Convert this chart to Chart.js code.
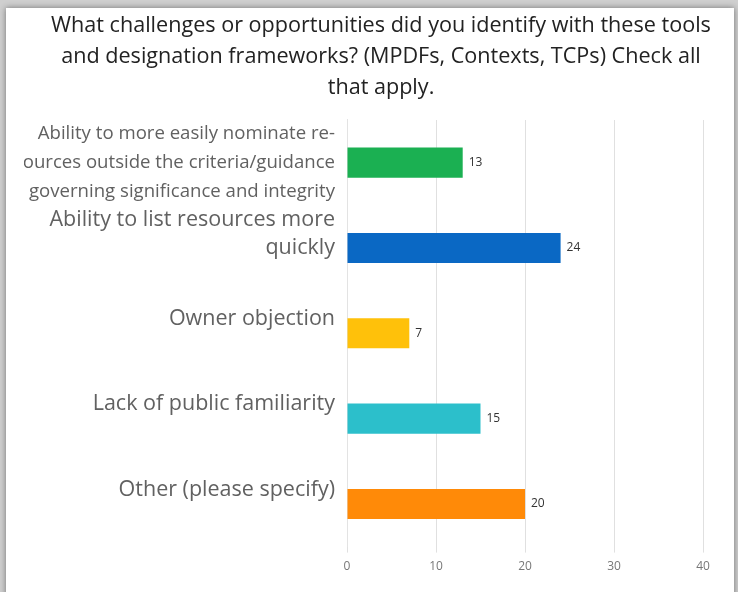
<!DOCTYPE html>
<html>
<head>
<meta charset="utf-8">
<script src="https://cdn.jsdelivr.net/npm/chart.js@4/dist/chart.umd.min.js"></script>
<style>
  html, body { margin: 0; padding: 0; background: #cfcfcf; }
  body { width: 738px; height: 592px; position: relative; overflow: hidden; }
  .card {
    position: absolute; left: 6px; top: 8px; width: 728px; height: 620px;
    background: #fff; box-shadow: 0 0 6px rgba(0,0,0,0.45);
  }
  #chart { position: absolute; left: 0; top: 0; }
</style>
</head>
<body>
<div class="card"></div>
<canvas id="chart" width="738" height="592"></canvas>
<script>
// ── Survey data ──────────────────────────────────────────────────────────
const titleLines = [
    'What challenges or opportunities did you identify with these tools',
    'and designation frameworks? (MPDFs, Contexts, TCPs) Check all',
    'that apply.'
];

const categories = [
    ['Ability to more easily nominate re-', 'sources outside the criteria/guidance', 'governing significance and integrity'],
    ['Ability to list resources more', 'quickly', ''],
    ['Owner objection', ''],
    ['Lack of public familiarity', ''],
    ['Other (please specify)', '']
];

const responses = [13, 24, 7, 15, 20];

const barColors = ['#1bb052', '#0a68c4', '#ffc10a', '#2cbfcb', '#ff8a08'];

const xTickMax  = 40;
const xTickStep = 10;

// ── Value labels at bar ends ─────────────────────────────────────────────
const valueLabels = {
    id: 'valueLabels',
    afterDatasetsDraw(chart) {
        const ctx = chart.ctx;
        const meta = chart.getDatasetMeta(0);
        ctx.save();
        ctx.font = '12px "Open Sans"';
        ctx.fillStyle = '#333';
        ctx.textAlign = 'left';
        ctx.textBaseline = 'middle';
        meta.data.forEach((bar, i) => {
            ctx.fillText(String(responses[i]), bar.x + 6, bar.y);
        });
        ctx.restore();
    }
};

new Chart(document.getElementById('chart'), {
    type: 'bar',
    data: {
        labels: categories,
        datasets: [{
            data: responses,
            backgroundColor: barColors,
            borderWidth: 0,
            categoryPercentage: 1,
            barPercentage: 0.353
        }]
    },
    options: {
        indexAxis: 'y',
        responsive: false,
        animation: false,
        layout: { padding: { left: 24, right: 0, top: 0, bottom: 11 } },
        plugins: {
            legend: { display: false },
            tooltip: { enabled: false },
            title: {
                display: true,
                text: titleLines,
                color: '#222',
                font: { family: '"Open Sans"', size: 21.6, weight: 'normal', lineHeight: 1.435 },
                padding: { top: 10, bottom: 17 }
            }
        },
        scales: {
            x: {
                min: 0,
                max: xTickMax,
                grid: { color: '#e0e0e0', lineWidth: 1, tickLength: 6, drawTicks: true },
                border: { display: false },
                afterFit: (scale) => { scale.paddingRight = 35; },
                ticks: {
                    stepSize: xTickStep,
                    color: '#777',
                    padding: 7,
                    font: { family: '"Open Sans"', size: 12 }
                }
            },
            y: {
                grid: { display: false, drawTicks: false },
                border: { display: true, color: '#e3e3e3' },
                afterFit: (scale) => {
                    // tall multi-line labels may overhang the plot edges
                    scale.width = 323;
                    scale.paddingTop = 0;
                    scale.paddingBottom = 0;
                },
                ticks: {
                    color: '#616161',
                    padding: 12,
                    autoSkip: false,
                    // the long first answer is set a little smaller
                    font: (ctx) => ctx.index === 0
                        ? { family: '"Open Sans"', size: 18.6, lineHeight: 1.56 }
                        : { family: '"Open Sans"', size: 21.5, lineHeight: 1.33 }
                }
            }
        }
    },
    plugins: [valueLabels]
});
</script>
</body>
</html>
